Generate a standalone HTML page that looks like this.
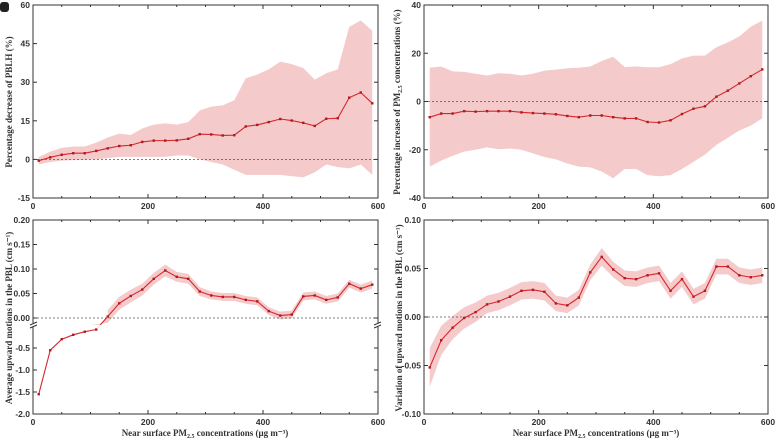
<!DOCTYPE html>
<html><head><meta charset="utf-8"><style>
body{margin:0;background:#fff;width:780px;height:441px;overflow:hidden}
svg text{font-family:"Liberation Serif",serif;font-weight:bold;fill:#333}
svg text.tk{font-family:"Liberation Sans",sans-serif;font-size:8.5px}
</style></head><body>
<svg id="c" width="780" height="441" xmlns="http://www.w3.org/2000/svg"></svg>
<script>
const xs=[10,30,50,70,90,110,130,150,170,190,210,230,250,270,290,310,330,350,370,390,410,430,450,470,490,510,530,550,570,590];
const aMean=[-0.5,0.8,1.8,2.4,2.4,3.3,4.3,5.2,5.5,6.8,7.3,7.3,7.4,8,9.8,9.7,9.3,9.4,12.8,13.4,14.5,15.7,15.1,14.2,13,15.8,16,24,26,21.8];
const aHi=[1,3,4.5,5,5,6.5,8.5,10,9.5,12,13.5,14,13.5,14.5,19,20.5,21,23,31.5,33,35,38,37,35.5,31,33.5,35,51.5,54,50];
const aLo=[-2,-1,-0.5,-0.3,-0.2,0,0.5,1,1,1,1,1,1.5,1.5,0,-1,-2,-4,-6,-6,-6,-6,-6.5,-7,-5,-2,-3,-3.5,-2,-6];
const bMean=[-6.5,-5,-5,-4,-4.2,-4,-4,-4,-4.5,-4.8,-5,-5.3,-6,-6.5,-5.8,-5.8,-6.5,-7,-7,-8.5,-8.7,-7.8,-5.2,-3,-2,2,4.5,7.5,10.5,13.3];
const bHi=[14,14.5,12.5,12.3,11.5,10.8,11.7,11.5,10.8,11.5,12.8,13.2,13.8,14,14.5,16.8,18.5,14.3,14.5,14.2,14.2,15.5,17.8,19,19,22.5,24.5,27,31,33.5];
const bLo=[-27,-24.5,-22.5,-20.8,-20,-19,-19.8,-19.5,-20,-21.5,-23,-24,-25.7,-27,-27.3,-29,-31.8,-28,-28,-30.5,-31,-30.5,-28,-25,-22,-18,-15,-12,-10,-7];
const cXsLow=[10,30,50,70,90,110];
const cLow=[-1.55,-0.55,-0.3,-0.2,-0.13,-0.08];
const cXsUp=[110,130,150,170,190,210,230,250,270,290,310,330,350,370,390,410,430,450,470,490,510,530,550,570,590];
const cUp=[-0.02,0.003,0.03,0.045,0.058,0.08,0.097,0.084,0.08,0.054,0.046,0.043,0.043,0.037,0.034,0.014,0.005,0.007,0.044,0.046,0.037,0.042,0.07,0.06,0.068];
const cErr=[0.013,0.013,0.013,0.013,0.012,0.012,0.012,0.01,0.01,0.009,0.008,0.008,0.008,0.008,0.008,0.008,0.008,0.008,0.008,0.008,0.008,0.008,0.008,0.008,0.008];
const dMean=[-0.052,-0.024,-0.011,-0.001,0.005,0.013,0.016,0.021,0.027,0.028,0.026,0.014,0.012,0.02,0.046,0.062,0.049,0.04,0.039,0.043,0.045,0.027,0.039,0.021,0.027,0.052,0.052,0.043,0.041,0.043];
const dErr=[0.02,0.015,0.012,0.011,0.01,0.009,0.009,0.009,0.009,0.009,0.009,0.008,0.008,0.008,0.008,0.009,0.008,0.008,0.008,0.008,0.008,0.008,0.008,0.008,0.008,0.008,0.008,0.008,0.008,0.008];
const aTicks=[-15,0,15,30,45,60], bTicks=[-40,-20,0,20,40];
const cTicksUp=[0,0.05,0.1,0.15,0.2], cTicksLow=[-2,-1.5,-1,-0.5], dTicks=[-0.1,-0.05,0,0.05,0.1];
const xTicks=[0,200,400,600];
const svg=document.getElementById('c'),NS='http://www.w3.org/2000/svg';
function el(t,a,p){const e=document.createElementNS(NS,t);for(const k in a)e.setAttribute(k,a[k]);(p||svg).appendChild(e);return e;}
function txt(s,x,y,o,name){const e=el('text',Object.assign({x:x,y:y,'font-size':9},o||{}));e.textContent=s;

return e;}
function lin(d0,d1,r0,r1){return v=>r0+(v-d0)/(d1-d0)*(r1-r0);}
function fmt(v,dec){return v.toFixed(dec);}
function band(X,Y,xv,lo,hi,name){let d='M'+xv.map((x,i)=>X(x)+','+Y(hi[i])).join('L')+'L'+xv.map((x,i)=>X(x)+','+Y(lo[i])).reverse().join('L')+'Z';
const p=el('path',{d:d,fill:'#f4caca',stroke:'none'});

}
function line(X,Y,xv,yv,name,pts){const p=el('polyline',{points:xv.map((x,i)=>X(x)+','+Y(yv[i])).join(' '),fill:'none',stroke:'#d7262c','stroke-width':1.1});


if(pts!==false)xv.forEach((x,i)=>{const c=el('rect',{x:X(x)-1.2,y:Y(yv[i])-1.2,width:2.4,height:2.4,fill:'#b01822'});

});}
function zero(X,Y){const l=el('line',{x1:X(0),x2:X(600),y1:Y(0),y2:Y(0),stroke:'#555','stroke-dasharray':'2,2','stroke-width':0.7});

}
function frame(x0,x1,y0,y1){const r=el('rect',{x:x0,y:y0,width:x1-x0,height:y1-y0,fill:'none',stroke:'#333','stroke-width':1});


const X=lin(0,600,x0,x1);
for(let v=0;v<=600;v+=50){const maj=v%200==0,L=maj?4:2;
el('line',{x1:X(v),x2:X(v),y1:y1,y2:y1-L,stroke:'#333'});el('line',{x1:X(v),x2:X(v),y1:y0,y2:y0+L,stroke:'#333'});}
xTicks.forEach(v=>txt(String(v),X(v),y1+11,{'text-anchor':'middle','class':'tk'},'x-tick-label'));}
function yt(Y,ticks,x0,x1,dec){ticks.forEach(v=>{el('line',{x1:x0,x2:x0+4,y1:Y(v),y2:Y(v),stroke:'#333'});el('line',{x1:x1,x2:x1-4,y1:Y(v),y2:Y(v),stroke:'#333'});
txt(fmt(v,dec),x0-3,Y(v)+3,{'text-anchor':'end','class':'tk'},'y-tick-label');});}
// Panel A
{const X=lin(0,600,33,378),Y=lin(-15,60,198,5);
band(X,Y,xs,aLo,aHi,'pblh-range');zero(X,Y);line(X,Y,xs,aMean,'pblh-line');frame(33,378,5,198);yt(Y,aTicks,33,378,0);
txt('Percentage decrease of PBLH (%)',0,0,{transform:'translate(12,102) rotate(-90)','text-anchor':'middle'},'y-axis-title');
const b=el('rect',{x:0,y:2,width:9,height:10,rx:3,fill:'#222'});}
// Panel B
{const X=lin(0,600,424,768),Y=lin(-40,40,198,5);
band(X,Y,xs,bLo,bHi,'pm25-range');zero(X,Y);line(X,Y,xs,bMean,'pm25-line');frame(424,768,5,198);yt(Y,bTicks,424,768,0);
const t=txt('',0,0,{transform:'translate(400,102) rotate(-90)','text-anchor':'middle'},'y-axis-title');
t.innerHTML='Percentage increase of PM<tspan font-size="6" dy="2">2.5</tspan><tspan dy="-2"> concentrations (%)</tspan>';}
// Panel C
{const X=lin(0,600,33,378),Yu=lin(0,0.2,318,220),Yl=lin(-2,0,414,326);
const lo=cUp.map((v,i)=>Math.max(v-cErr[i],-0.014)),hi=cUp.map((v,i)=>v+cErr[i]);
band(X,Yu,cXsUp.slice(1),lo.slice(1),hi.slice(1),'upward-range');
el('polygon',{points:X(100)+','+Yu(-0.014)+' '+X(118)+','+Yu(-0.014)+' '+X(140)+','+Yu(0.016)+' '+X(130)+','+Yu(-0.01),fill:'#f4caca'});
zero(X,Yu);line(X,Yu,cXsUp.slice(1),cUp.slice(1),'upward-line');
line(X,Yu,[117,130],[-0.014,0.003],'upward-link',false);
line(X,Yl,cXsLow,cLow,'upward-line-lower');
frame(33,378,220,414);yt(Yu,cTicksUp,33,378,2);yt(Yl,cTicksLow,33,378,1);
el('rect',{x:29,y:323,width:8,height:4,fill:'#fff'});el('rect',{x:374,y:323,width:8,height:4,fill:'#fff'});
[30,374].forEach(x=>{el('line',{x1:x,x2:x+7,y1:325,y2:322,stroke:'#333'});el('line',{x1:x,x2:x+7,y1:328,y2:325,stroke:'#333'});});
txt('Average upward motions in the PBL (cm s\u207B\u00B9)',0,0,{transform:'translate(12,318) rotate(-90)','text-anchor':'middle'},'y-axis-title');
const t=txt('',205,436,{'text-anchor':'middle'},'x-axis-title');t.innerHTML='Near surface PM<tspan font-size="6" dy="2">2.5</tspan><tspan dy="-2"> concentrations (μg m\u207B\u00B3)</tspan>';}
// Panel D
{const X=lin(0,600,424,768),Y=lin(-0.1,0.1,414,220);
band(X,Y,xs,dMean.map((v,i)=>v-dErr[i]),dMean.map((v,i)=>v+dErr[i]),'variation-range');zero(X,Y);line(X,Y,xs,dMean,'variation-line');
frame(424,768,220,414);yt(Y,dTicks,424,768,2);
txt('Variation of upward motions in the PBL (cm s\u207B\u00B9)',0,0,{transform:'translate(402,318) rotate(-90)','text-anchor':'middle'},'y-axis-title');
const t=txt('',596,436,{'text-anchor':'middle'},'x-axis-title');t.innerHTML='Near surface PM<tspan font-size="6" dy="2">2.5</tspan><tspan dy="-2"> concentrations (μg m\u207B\u00B3)</tspan>';}
</script>
</body></html>
